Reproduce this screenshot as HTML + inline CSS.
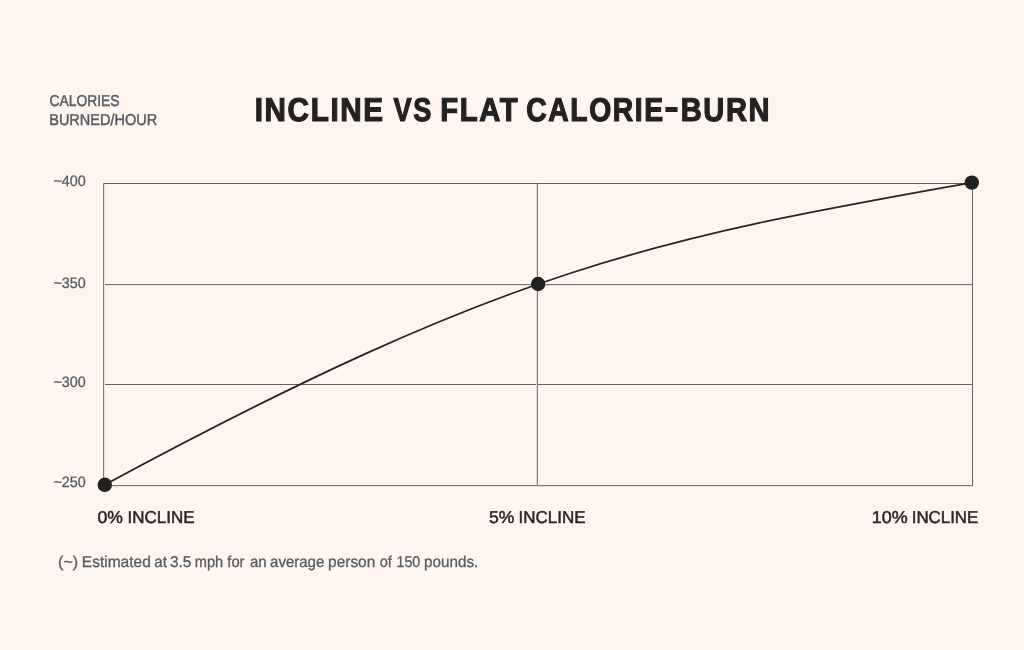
<!DOCTYPE html>
<html lang="en">
<head>
<meta charset="utf-8">
<title>Incline vs Flat Calorie-Burn</title>
<style>
  html, body { margin: 0; padding: 0; background: #fef5f0; }
  body { width: 1024px; height: 650px; overflow: hidden; }
  svg { display: block; }
  text { font-family: "Liberation Sans", sans-serif; text-rendering: geometricPrecision; }
  .title { font-weight: bold; font-size: 33px; fill: #242122; stroke: #242122; stroke-width: 1.15px; stroke-linejoin: miter; letter-spacing: 1.8px; }
  .ylab { font-size: 15.8px; fill: #565b62; stroke: #565b62; stroke-width: 0.45px; }
  .tick { font-size: 15.0px; fill: #565b62; stroke: #565b62; stroke-width: 0.3px; }
  .xlab { font-size: 17.2px; fill: #2a2627; stroke: #2a2627; stroke-width: 0.5px; }
  .note { font-size: 15.7px; fill: #565b62; stroke: #565b62; stroke-width: 0.3px; }
  .grid { shape-rendering: crispEdges; }
  .curve { stroke: #262324; stroke-width: 1.75; fill: none; stroke-linecap: round; }
  .dot { fill: #232021; }
</style>
</head>
<body>
<svg width="1024" height="650" viewBox="0 0 1024 650">
  <rect x="0" y="0" width="1024" height="650" fill="#fef5f0"/>

  <!-- y axis caption -->
  <text class="ylab" x="49.44" y="105.80" textLength="70.17" lengthAdjust="spacingAndGlyphs">CALORIES</text>
  <text class="ylab" x="49.23" y="124.80" textLength="107.98" lengthAdjust="spacingAndGlyphs">BURNED/HOUR</text>

  <!-- title -->
  <text class="title" y="120.75"><tspan x="254.70" textLength="130.01" lengthAdjust="spacingAndGlyphs">INCLINE</tspan> <tspan x="393.62" textLength="39.14" lengthAdjust="spacingAndGlyphs">VS</tspan> <tspan x="440.31" textLength="78.92" lengthAdjust="spacingAndGlyphs">FLAT</tspan> <tspan x="526.33" textLength="138.32" lengthAdjust="spacingAndGlyphs">CALORIE</tspan><tspan x="664.51" dy="-2.4" textLength="16.35" lengthAdjust="spacingAndGlyphs">-</tspan><tspan x="680.68" dy="2.4" textLength="90.44" lengthAdjust="spacingAndGlyphs">BURN</tspan></text>

  <!-- grid -->
  <g class="grid">
    <rect x="103" y="183" width="870" height="1" fill="#625e5d"/>
    <rect x="103" y="284" width="870" height="1" fill="#7b7674"/>
    <rect x="103" y="285" width="870" height="1" fill="#e6e0dc"/>
    <rect x="103" y="384" width="870" height="1" fill="#646261"/>
    <rect x="103" y="485" width="870" height="1" fill="#787a78"/>
    <rect x="103" y="486" width="870" height="1" fill="#e6e3de"/>
    <rect x="103" y="183" width="1" height="303" fill="#7e7977"/>
    <rect x="104" y="184" width="1" height="301" fill="#e6e0dc"/>
    <rect x="537" y="183" width="1" height="303" fill="#7e7977"/>
    <rect x="536" y="184" width="1" height="301" fill="#e6e0dc"/>
    <rect x="972" y="183" width="1" height="303" fill="#6c6766"/>
  </g>

  <!-- y ticks -->
  <text class="tick" x="53.47" y="186.35" textLength="32.37" lengthAdjust="spacingAndGlyphs">~400</text>
  <text class="tick" x="53.47" y="287.75" textLength="32.38" lengthAdjust="spacingAndGlyphs">~350</text>
  <text class="tick" x="53.47" y="387.30" textLength="32.38" lengthAdjust="spacingAndGlyphs">~300</text>
  <text class="tick" x="53.48" y="486.95" textLength="32.38" lengthAdjust="spacingAndGlyphs">~250</text>

  <!-- curve -->
  <path class="curve" d="M104.8 484.8 C507.4 267.6 652.4 239.2 971.8 182.6"/>
  <circle class="dot" cx="104.8" cy="484.8" r="7.2"/>
  <circle class="dot" cx="538.1" cy="284.0" r="7.2"/>
  <circle class="dot" cx="971.8" cy="182.6" r="7.2"/>

  <!-- x labels -->
  <text class="xlab" y="522.8"><tspan x="97.49" textLength="25.46" lengthAdjust="spacingAndGlyphs">0%</tspan> <tspan x="127.57" textLength="67.03" lengthAdjust="spacingAndGlyphs">INCLINE</tspan></text>
  <text class="xlab" y="522.8"><tspan x="489.08" textLength="25.45" lengthAdjust="spacingAndGlyphs">5%</tspan> <tspan x="518.57" textLength="67.03" lengthAdjust="spacingAndGlyphs">INCLINE</tspan></text>
  <text class="xlab" y="522.8"><tspan x="871.73" textLength="35.96" lengthAdjust="spacingAndGlyphs">10%</tspan> <tspan x="911.69" textLength="66.59" lengthAdjust="spacingAndGlyphs">INCLINE</tspan></text>

  <!-- footnote -->
  <text class="note" y="567.2"><tspan x="58.03" textLength="20.18" lengthAdjust="spacingAndGlyphs">(~)</tspan> <tspan x="81.81" textLength="68.97" lengthAdjust="spacingAndGlyphs">Estimated</tspan> <tspan x="154.34" textLength="12.63" lengthAdjust="spacingAndGlyphs">at</tspan> <tspan x="169.97" textLength="21.41" lengthAdjust="spacingAndGlyphs">3.5</tspan> <tspan x="194.78" textLength="28.50" lengthAdjust="spacingAndGlyphs">mph</tspan> <tspan x="227.33" textLength="17.21" lengthAdjust="spacingAndGlyphs">for</tspan> <tspan x="249.98" textLength="16.71" lengthAdjust="spacingAndGlyphs">an</tspan> <tspan x="270.09" textLength="54.21" lengthAdjust="spacingAndGlyphs">average</tspan> <tspan x="328.12" textLength="47.17" lengthAdjust="spacingAndGlyphs">person</tspan> <tspan x="379.66" textLength="12.29" lengthAdjust="spacingAndGlyphs">of</tspan> <tspan x="396.57" textLength="23.61" lengthAdjust="spacingAndGlyphs">150</tspan> <tspan x="424.00" textLength="54.27" lengthAdjust="spacingAndGlyphs">pounds.</tspan></text>
</svg>
</body>
</html>
